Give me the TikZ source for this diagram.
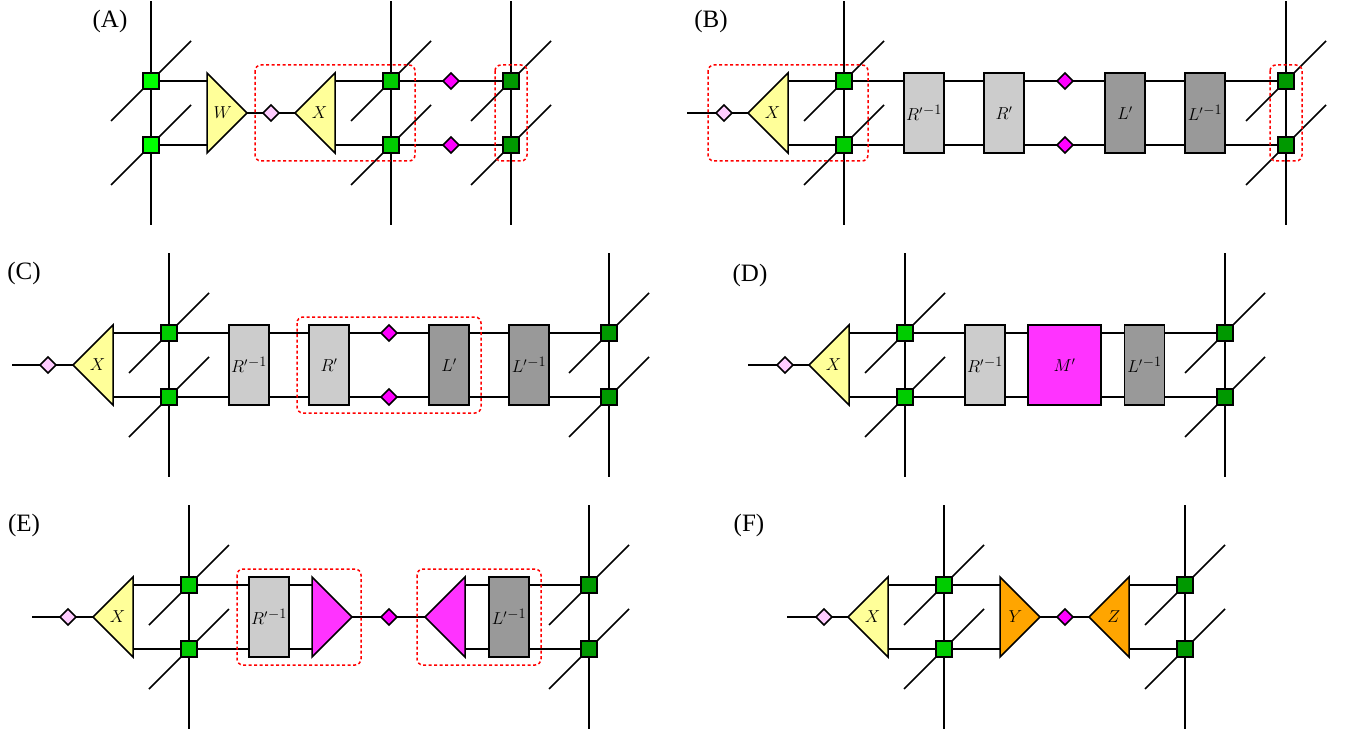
\documentclass[tikz,border=0pt]{standalone}
\usepackage{fontspec}
\setmainfont{Liberation Serif}
\usepackage{amsmath}
\usetikzlibrary{shapes.geometric}
\definecolor{tribg}{HTML}{FFFF99}
\definecolor{hotpink}{HTML}{FF33FF}
\definecolor{gemcol}{HTML}{FF00FF}
\definecolor{palepink}{HTML}{FFCCFF}
\definecolor{lightblock}{HTML}{CCCCCC}
\definecolor{darkblock}{HTML}{999999}
\definecolor{brightgreen}{HTML}{00FF00}
\definecolor{midgreen}{HTML}{00CC00}
\definecolor{deepgreen}{HTML}{009900}
\definecolor{dotorange}{HTML}{FFA500}
\newcommand{\Rinv}{\ensuremath{R'^{\mkern1mu\text{\fontsize{15}{15}\selectfont$-1$}}}}
\newcommand{\Linv}{\ensuremath{L'^{\mkern1mu\text{\fontsize{15}{15}\selectfont$-1$}}}}
\tikzset{
  wire/.style={line width=1.5pt},
  tensor/.style={draw, line width=1.5pt, inner sep=0pt, outer sep=0pt, font=\fontsize{17}{20}\selectfont},
  site/.style={tensor, rectangle, minimum size=16pt},
  gsite/.style={site, fill=brightgreen},
  msite/.style={site, fill=midgreen},
  dsite/.style={site, fill=deepgreen},
  gem/.style={tensor, diamond, minimum size=16pt},
  mgem/.style={gem, fill=gemcol},
  pgem/.style={gem, fill=palepink},
  lblock/.style={tensor, minimum width=40pt, minimum height=80pt, fill=lightblock},
  dblock/.style={tensor, minimum width=40pt, minimum height=80pt, fill=darkblock},
  wedge/.style={tensor, isosceles triangle, isosceles triangle stretches, minimum width=80pt, minimum height=40pt, anchor=lower side},
  wedgeR/.style={wedge, shape border rotate=0},
  wedgeL/.style={wedge, shape border rotate=180},
  redbox/.style={draw=red, line width=1.5pt, dash pattern=on 3pt off 2.5pt, rounded corners=6pt},
  tag/.style={font=\fontsize{25}{28}\selectfont}
}
% one site's two slanted legs
\newcommand{\legs}[1]{\draw[line width=1.5pt] (#1) -- +(40,-40) (#1) -- +(-40,40);}
% a vertical line through two sites
\newcommand{\pillar}[2]{\draw[wire] (#1) -- +(0,-80) (#1) -- (#2) (#2) -- +(0,80);}
\begin{document}
\begin{tikzpicture}[x=1pt,y=-1pt]
  \useasboundingbox (0,0) rectangle (1351,735);
  % (A)
  \node[tag] (tagA) at (110,21) {(A)};
  \node[gsite] (a1) at (151,81) {};
  \node[gsite] (a2) at (151,145) {};
  \node[msite] (a3) at (391,81) {};
  \node[msite] (a4) at (391,145) {};
  \node[dsite] (a5) at (511,81) {};
  \node[dsite] (a6) at (511,145) {};
  \node[mgem] (ad1) at (451,81) {};
  \node[mgem] (ad2) at (451,145) {};
  \node[wedgeR, fill=tribg] (aW) at (207,113) {$W$};
  \node[pgem] (ad0) at (271,113) {};
  \node[wedgeL, fill=tribg] (aX) at (335,113) {$X$};
  \draw[wire] (a1) -- (a1 -| aW.lower side) (a2) -- (a2 -| aW.lower side)
  (aW.apex) -- (ad0) -- (aX.apex)
  (a3 -| aX.lower side) -- (a3) -- (ad1) -- (a5)
  (a4 -| aX.lower side) -- (a4) -- (ad2) -- (a6);
  \pillar{a1}{a2} \pillar{a3}{a4} \pillar{a5}{a6}
  \legs{a1} \legs{a2} \legs{a3} \legs{a4} \legs{a5} \legs{a6}
  \draw[redbox] (255,65) rectangle (415,161);
  \draw[redbox] (495,65) rectangle (527,161);
  % (B)
  \node[tag] (tagB) at (711,21) {(B)};
  \coordinate (bw) at (687,113);
  \node[pgem] (bd0) at (724,113) {};
  \node[wedgeL, fill=tribg] (bX) at (788,113) {$X$};
  \node[msite] (b1) at (844,81) {};
  \node[msite] (b2) at (844,145) {};
  \node[lblock] (bRi) at (924,113) {\Rinv};
  \node[lblock] (bR) at (1004,113) {$R'$};
  \node[mgem] (bd1) at (1065,81) {};
  \node[mgem] (bd2) at (1065,145) {};
  \node[dblock] (bL) at (1125,113) {$L'$};
  \node[dblock] (bLi) at (1205,113) {\Linv};
  \node[dsite] (b3) at (1286,81) {};
  \node[dsite] (b4) at (1286,145) {};
  \draw[wire] (bw) -- (bd0) -- (bX.apex)
  (b1 -| bX.lower side) -- (b1) -- (b1 -| bRi.west)
  (b2 -| bX.lower side) -- (b2) -- (b2 -| bRi.west)
  (b1 -| bRi.east) -- (b1 -| bR.west) (b2 -| bRi.east) -- (b2 -| bR.west)
  (b1 -| bR.east) -- (bd1) -- (b1 -| bL.west)
  (b2 -| bR.east) -- (bd2) -- (b2 -| bL.west)
  (b1 -| bL.east) -- (b1 -| bLi.west) (b2 -| bL.east) -- (b2 -| bLi.west)
  (b1 -| bLi.east) -- (b3) (b2 -| bLi.east) -- (b4);
  \pillar{b1}{b2} \pillar{b3}{b4}
  \legs{b1} \legs{b2} \legs{b3} \legs{b4}
  \draw[redbox] (708,65) rectangle (868,161);
  \draw[redbox] (1270,65) rectangle (1302,161);
  % (C)
  \node[tag] (tagC) at (24,273) {(C)};
  \coordinate (cw) at (12,365);
  \node[pgem] (cd0) at (48,365) {};
  \node[wedgeL, fill=tribg] (cX) at (113,365) {$X$};
  \node[msite] (c1) at (169,333) {};
  \node[msite] (c2) at (169,397) {};
  \node[lblock] (cRi) at (249,365) {\Rinv};
  \node[lblock] (cR) at (329,365) {$R'$};
  \node[mgem] (cd1) at (389,333) {};
  \node[mgem] (cd2) at (389,397) {};
  \node[dblock] (cL) at (449,365) {$L'$};
  \node[dblock] (cLi) at (529,365) {\Linv};
  \node[dsite] (c3) at (609,333) {};
  \node[dsite] (c4) at (609,397) {};
  \draw[wire] (cw) -- (cd0) -- (cX.apex)
  (c1 -| cX.lower side) -- (c1) -- (c1 -| cRi.west)
  (c2 -| cX.lower side) -- (c2) -- (c2 -| cRi.west)
  (c1 -| cRi.east) -- (c1 -| cR.west) (c2 -| cRi.east) -- (c2 -| cR.west)
  (c1 -| cR.east) -- (cd1) -- (c1 -| cL.west)
  (c2 -| cR.east) -- (cd2) -- (c2 -| cL.west)
  (c1 -| cL.east) -- (c1 -| cLi.west) (c2 -| cL.east) -- (c2 -| cLi.west)
  (c1 -| cLi.east) -- (c3) (c2 -| cLi.east) -- (c4);
  \pillar{c1}{c2} \pillar{c3}{c4}
  \legs{c1} \legs{c2} \legs{c3} \legs{c4}
  \draw[redbox] (297,317) rectangle (481,413);
  % (D)
  \node[tag] (tagD) at (750,275) {(D)};
  \coordinate (dw) at (748,365);
  \node[pgem] (dd0) at (785,365) {};
  \node[wedgeL, fill=tribg] (dX) at (849,365) {$X$};
  \node[msite] (d1) at (905,333) {};
  \node[msite] (d2) at (905,397) {};
  \node[lblock] (dRi) at (985,365) {\Rinv};
  \node[tensor, minimum width=73pt, minimum height=80pt, fill=hotpink] (dM) at (1064.5,365) {$M'$};
  \node[dblock] (dLi) at (1144.5,365) {\Linv};
  \node[dsite] (d3) at (1225,333) {};
  \node[dsite] (d4) at (1225,397) {};
  \draw[wire] (dw) -- (dd0) -- (dX.apex)
  (d1 -| dX.lower side) -- (d1) -- (d1 -| dRi.west)
  (d2 -| dX.lower side) -- (d2) -- (d2 -| dRi.west)
  (d1 -| dRi.east) -- (d1 -| dM.west) (d2 -| dRi.east) -- (d2 -| dM.west)
  (d1 -| dM.east) -- (d1 -| dLi.west) (d2 -| dM.east) -- (d2 -| dLi.west)
  (d1 -| dLi.east) -- (d3) (d2 -| dLi.east) -- (d4);
  \pillar{d1}{d2} \pillar{d3}{d4}
  \legs{d1} \legs{d2} \legs{d3} \legs{d4}
  % (E)
  \node[tag] (tagE) at (24,525) {(E)};
  \coordinate (ew) at (32,617);
  \node[pgem] (ed0) at (68,617) {};
  \node[wedgeL, fill=tribg] (eX) at (133,617) {$X$};
  \node[msite] (e1) at (189,585) {};
  \node[msite] (e2) at (189,649) {};
  \node[lblock] (eRi) at (269,617) {\Rinv};
  \node[wedgeR, fill=hotpink] (eT) at (312,617) {};
  \node[mgem] (ed1) at (389,617) {};
  \node[wedgeL, fill=hotpink] (eU) at (465,617) {};
  \node[dblock] (eLi) at (509,617) {\Linv};
  \node[dsite] (e3) at (589,585) {};
  \node[dsite] (e4) at (589,649) {};
  \draw[wire] (ew) -- (ed0) -- (eX.apex)
  (e1 -| eX.lower side) -- (e1) -- (e1 -| eRi.west)
  (e2 -| eX.lower side) -- (e2) -- (e2 -| eRi.west)
  (e1 -| eRi.east) -- (e1 -| eT.lower side) (e2 -| eRi.east) -- (e2 -| eT.lower side)
  (eT.apex) -- (ed1) -- (eU.apex)
  (e1 -| eU.lower side) -- (e1 -| eLi.west) (e2 -| eU.lower side) -- (e2 -| eLi.west)
  (e1 -| eLi.east) -- (e3) (e2 -| eLi.east) -- (e4);
  \pillar{e1}{e2} \pillar{e3}{e4}
  \legs{e1} \legs{e2} \legs{e3} \legs{e4}
  \draw[redbox] (237,569) rectangle (361,665);
  \draw[redbox] (417,569) rectangle (541,665);
  % (F)
  \node[tag] (tagF) at (749,525) {(F)};
  \coordinate (fw) at (787,617);
  \node[pgem] (fd0) at (824,617) {};
  \node[wedgeL, fill=tribg] (fX) at (888,617) {$X$};
  \node[msite] (f1) at (944,585) {};
  \node[msite] (f2) at (944,649) {};
  \node[wedgeR, fill=dotorange] (fY) at (1000,617) {$Y$};
  \node[mgem] (fd1) at (1065,617) {};
  \node[wedgeL, fill=dotorange] (fZ) at (1129,617) {$Z$};
  \node[dsite] (f3) at (1185,585) {};
  \node[dsite] (f4) at (1185,649) {};
  \draw[wire] (fw) -- (fd0) -- (fX.apex)
  (f1 -| fX.lower side) -- (f1) -- (f1 -| fY.lower side)
  (f2 -| fX.lower side) -- (f2) -- (f2 -| fY.lower side)
  (fY.apex) -- (fd1) -- (fZ.apex)
  (f3 -| fZ.lower side) -- (f3) (f4 -| fZ.lower side) -- (f4);
  \pillar{f1}{f2} \pillar{f3}{f4}
  \legs{f1} \legs{f2} \legs{f3} \legs{f4}
\end{tikzpicture}
\end{document}
